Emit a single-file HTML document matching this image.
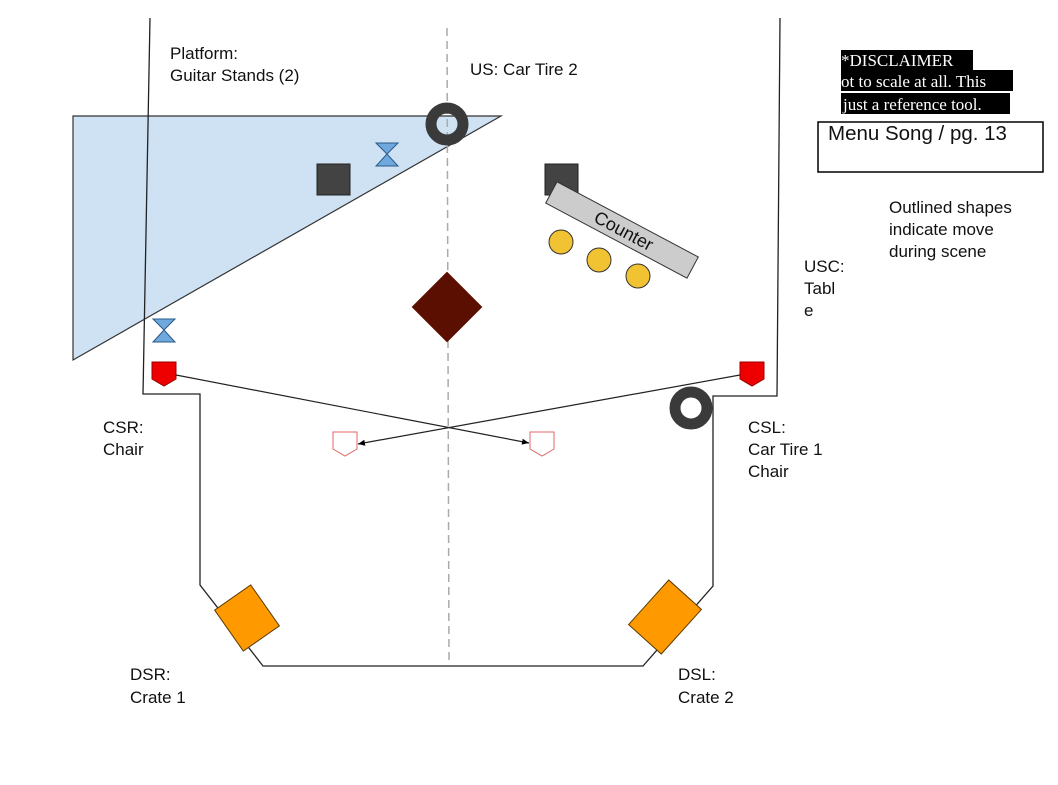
<!DOCTYPE html>
<html><head><meta charset="utf-8"><style>
html,body{margin:0;padding:0;background:#fff;}
svg{display:block;}
text{font-family:"Liberation Sans",sans-serif;font-size:17px;fill:#111;}
.serif{font-family:"Liberation Serif",serif;fill:#fff;font-size:17px;}
</style></head><body>
<svg width="1058" height="785" viewBox="0 0 1058 785" xmlns="http://www.w3.org/2000/svg">
<defs><marker id="ah" markerWidth="8" markerHeight="8" refX="7" refY="4" orient="auto" markerUnits="userSpaceOnUse"><path d="M0,1 L7,4 L0,7 Z" fill="#000"/></marker></defs>
<polygon points="73,116 501,116 73,360" fill="#cfe2f3" stroke="#333" stroke-width="1.2"/>
<line x1="447" y1="28" x2="449" y2="665" stroke="#aaa" stroke-width="1.5" stroke-dasharray="8,5"/>
<polyline points="150,18 143,394 200,394 200,585 263,666 643,666 713,586 713,396 777,396 780,18" fill="none" stroke="#222" stroke-width="1.3"/>
<circle cx="447" cy="124" r="16" fill="none" stroke="#3a3a3a" stroke-width="11"/>
<path d="M376,143 H398 L387,154 L398,166 H376 L387,154 Z" fill="#6fa8dc" stroke="#2a5a8a" stroke-width="1"/>
<path d="M153,319 H175 L164,330 L175,342 H153 L164,330 Z" fill="#6fa8dc" stroke="#2a5a8a" stroke-width="1"/>
<rect x="317" y="164" width="33" height="31" fill="#434343" stroke="#222"/>
<rect x="545" y="164" width="33" height="31" fill="#434343" stroke="#222"/>
<g transform="translate(622,230) rotate(28)"><rect x="-80" y="-12" width="160" height="24" fill="#ccc" stroke="#333"/><text x="2" y="6" text-anchor="middle" style="font-size:18px">Counter</text></g>
<circle cx="561" cy="242" r="12" fill="#f1c232" stroke="#333"/>
<circle cx="599" cy="260" r="12" fill="#f1c232" stroke="#333"/>
<circle cx="638" cy="276" r="12" fill="#f1c232" stroke="#333"/>
<rect x="422" y="282" width="50" height="50" fill="#5b0f00" transform="rotate(45 447 307)"/>
<path d="M152,362 H176 V379 L164,386 L152,379 Z" fill="#e00" stroke="#900"/>
<path d="M740,362 H764 V379 L752,386 L740,379 Z" fill="#e00" stroke="#900"/>
<path d="M333,432 H357 V449 L345,456 L333,449 Z" fill="#fff" stroke="#e06666"/>
<path d="M530,432 H554 V449 L542,456 L530,449 Z" fill="#fff" stroke="#e06666"/>
<line x1="176" y1="375" x2="529" y2="443" stroke="#222" stroke-width="1.2" marker-end="url(#ah)"/>
<line x1="740" y1="375" x2="358" y2="444" stroke="#222" stroke-width="1.2" marker-end="url(#ah)"/>
<circle cx="691" cy="408" r="16" fill="none" stroke="#3a3a3a" stroke-width="11"/>
<rect x="-22" y="-25" width="44" height="50" fill="#ff9900" stroke="#5a3a00" transform="translate(247,618) rotate(-35)"/>
<rect x="-22" y="-30" width="44" height="60" fill="#ff9900" stroke="#5a3a00" transform="translate(665,617) rotate(42)"/>
<text x="170" y="59">Platform:</text><text x="170" y="81">Guitar Stands (2)</text>
<text x="470" y="75">US: Car Tire 2</text>
<text x="889" y="213">Outlined shapes</text><text x="889" y="235">indicate move</text><text x="889" y="257">during scene</text>
<text x="804" y="272">USC:</text><text x="804" y="294">Tabl</text><text x="804" y="316">e</text>
<text x="103" y="433">CSR:</text><text x="103" y="455">Chair</text>
<text x="748" y="433">CSL:</text><text x="748" y="455">Car Tire 1</text><text x="748" y="477">Chair</text>
<text x="130" y="680">DSR:</text><text x="130" y="703">Crate 1</text>
<text x="678" y="680">DSL:</text><text x="678" y="703">Crate 2</text>
<rect x="841" y="50" width="132" height="20" fill="#000"/>
<rect x="841" y="70" width="172" height="21" fill="#000"/>
<rect x="841" y="93" width="169" height="21" fill="#000"/>
<text class="serif" x="841" y="66">*DISCLAIMER</text>
<text class="serif" x="841" y="87">ot to scale at all. This</text>
<text class="serif" x="843" y="110">just a reference tool.</text>
<rect x="818" y="122" width="225" height="50" fill="#fff" stroke="#000" stroke-width="1.5"/>
<text x="828" y="140" style="font-size:20.5px">Menu Song / pg. 13</text>
</svg>
</body></html>
